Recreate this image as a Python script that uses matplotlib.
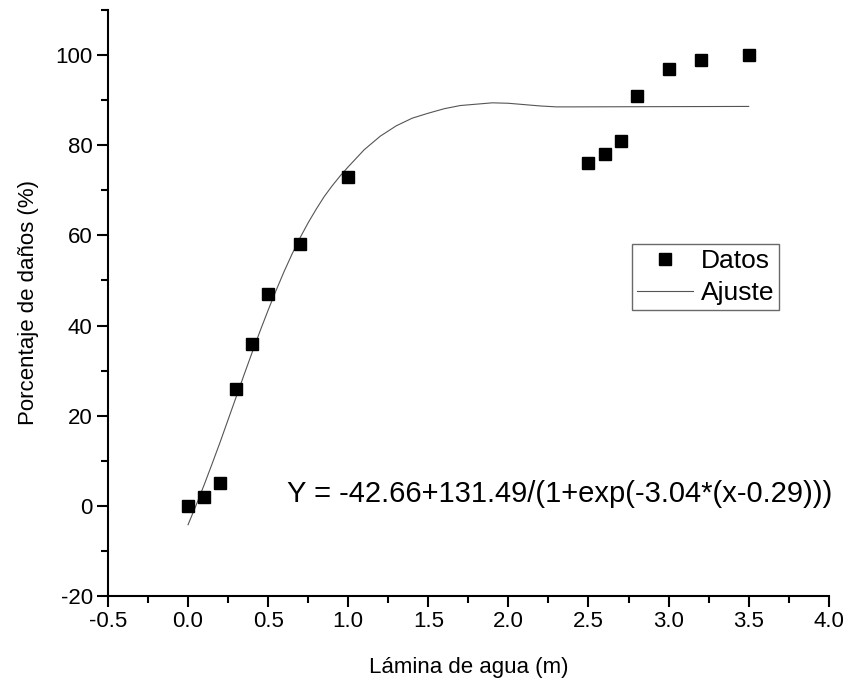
import numpy as np
import matplotlib.pyplot as plt
from matplotlib.ticker import MultipleLocator

plt.rcParams['font.family'] = ['Liberation Sans', 'DejaVu Sans']
plt.rcParams['axes.unicode_minus'] = False

# datos medidos
x_datos = [0.0, 0.1, 0.2, 0.3, 0.4, 0.5, 0.7, 1.0, 2.5, 2.6, 2.7, 2.8, 3.0, 3.2, 3.5]
y_datos = [0, 2, 5, 26, 36, 47, 58, 73, 76, 78, 81, 91, 97, 99, 100]

# curva de ajuste
x_ajuste = [0.0, 0.05, 0.1, 0.15, 0.2, 0.25, 0.3, 0.35, 0.4, 0.45, 0.5, 0.55, 0.6, 0.65,
            0.7, 0.75, 0.8, 0.85, 0.9, 0.95, 1.0, 1.1, 1.2, 1.3, 1.4, 1.5, 1.6, 1.7,
            1.8, 1.9, 2.0, 2.1, 2.2, 2.3, 2.4, 3.5]
y_ajuste = [-4.2, 0.1, 4.6, 9.3, 14.1, 19.1, 24.1, 29.1, 34.0, 38.8, 43.4, 47.8, 52.0, 55.9,
            59.5, 62.8, 65.8, 68.6, 71.0, 73.2, 75.2, 79.0, 82.0, 84.3, 86.0, 87.1, 88.1, 88.8,
            89.1, 89.4, 89.3, 89.0, 88.7, 88.5, 88.5, 88.6]

fig = plt.figure(figsize=(8.5, 6.87), dpi=100)
ax = fig.add_axes([0.127, 0.1325, 0.848, 0.853])

ax.plot(x_datos, y_datos, 's', color='black', markersize=8.5, label='Datos', zorder=3)
ax.plot(x_ajuste, y_ajuste, '-', color='#555555', linewidth=0.8, label='Ajuste')

ax.set_xlim(-0.5, 4.0)
ax.set_ylim(-20, 110)
ax.xaxis.set_major_locator(MultipleLocator(0.5))
ax.xaxis.set_minor_locator(MultipleLocator(0.25))
ax.yaxis.set_minor_locator(MultipleLocator(10))
ax.set_yticks([-20, 0, 20, 40, 60, 80, 100])

# solo ejes izquierdo e inferior
ax.spines['top'].set_visible(False)
ax.spines['right'].set_visible(False)
for s in ['left', 'bottom']:
    ax.spines[s].set_linewidth(1.5)
ax.tick_params(which='major', direction='out', length=8, width=1.5, labelsize=16, pad=3)
ax.tick_params(which='minor', direction='out', length=5, width=1.5)

ax.set_xlabel('Lámina de agua (m)', fontsize=16, labelpad=18)
ax.set_ylabel('Porcentaje de daños (%)', fontsize=16, labelpad=12)

ax.text(0.62, 2.7, 'Y = -42.66+131.49/(1+exp(-3.04*(x-0.29)))', fontsize=21, va='center', ha='left')

leg = ax.legend(loc='upper left', bbox_to_anchor=(0.727, 0.601), fontsize=19,
                frameon=True, fancybox=False, edgecolor='#444444', borderpad=0.2,
                handlelength=2.1, handletextpad=0.3, labelspacing=0.3, borderaxespad=0)
leg.get_frame().set_linewidth(1.0)

fig.savefig('out.png', dpi=100)
